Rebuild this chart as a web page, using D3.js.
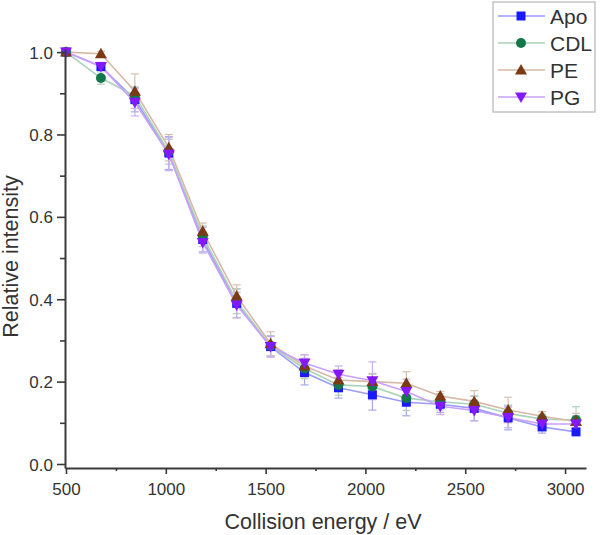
<!DOCTYPE html>
<html><head><meta charset="utf-8">
<script src="https://cdn.jsdelivr.net/npm/d3@7"></script>
<style>
html,body{margin:0;padding:0;background:#fff;}
svg text{font-family:"Liberation Sans",Arial,Helvetica,sans-serif;fill:#333;}
</style></head>
<body>
<svg id="chart" width="600" height="535"></svg>
<script>
const energies = [500, 675, 845, 1015, 1185, 1355, 1525, 1695, 1865, 2035, 2205, 2375, 2545, 2715, 2885, 3055];
const seriesNames = ["Apo", "CDL", "PE", "PG"];
const apo = [1.0, 0.965, 0.885, 0.755, 0.545, 0.390, 0.285, 0.222, 0.185, 0.168, 0.150, 0.145, 0.135, 0.112, 0.090, 0.078];
const cdl = [1.0, 0.937, 0.894, 0.758, 0.553, 0.395, 0.287, 0.232, 0.192, 0.188, 0.160, 0.151, 0.145, 0.123, 0.109, 0.107];
const pe  = [1.0, 0.996, 0.905, 0.768, 0.565, 0.408, 0.292, 0.238, 0.204, 0.200, 0.196, 0.165, 0.152, 0.131, 0.116, 0.103];
const pg  = [1.0, 0.965, 0.878, 0.752, 0.538, 0.386, 0.285, 0.245, 0.218, 0.202, 0.176, 0.140, 0.130, 0.113, 0.097, 0.097];
const apoErr = [0, 0.008, 0.030, 0.040, 0.030, 0.035, 0.025, 0.030, 0.025, 0.037, 0.033, 0.020, 0.030, 0.029, 0.015, 0.008];
const cdlErr = [0, 0.015, 0.020, 0.030, 0.025, 0.030, 0.025, 0.025, 0.025, 0.030, 0.030, 0.020, 0.020, 0.020, 0.012, 0.032];
const peErr  = [0, 0.006, 0.042, 0.032, 0.020, 0.027, 0.029, 0.027, 0.025, 0.020, 0.028, 0.011, 0.026, 0.031, 0.011, 0.020];
const pgErr  = [0, 0.010, 0.033, 0.040, 0.026, 0.031, 0.025, 0.020, 0.020, 0.046, 0.030, 0.020, 0.025, 0.025, 0.012, 0.020];
const xTicks = [500, 1000, 1500, 2000, 2500, 3000];
const xMinor = [750, 1250, 1750, 2250, 2750];
const yTicks = [0.0, 0.2, 0.4, 0.6, 0.8, 1.0];
const yMinor = [0.1, 0.3, 0.5, 0.7, 0.9];
const xTitle = "Collision energy / eV";
const yTitle = "Relative intensity";

const styles = {
  Apo: {marker: "#1a1aff", line: "#9c9cff", err: "#a8a8f0", shape: "square"},
  CDL: {marker: "#12784a", line: "#a9d3ba", err: "#b0d0bc", shape: "circle"},
  PE:  {marker: "#7c3a14", line: "#d8b8a6", err: "#d6c0b0", shape: "triangle"},
  PG:  {marker: "#8418ff", line: "#c9a0ff", err: "#c8b0ec", shape: "triangleDown"}
};
const valuesBy = {Apo: apo, CDL: cdl, PE: pe, PG: pg};
const errBy = {Apo: apoErr, CDL: cdlErr, PE: peErr, PG: pgErr};

const svg = d3.select("#chart");
const x = d3.scaleLinear().domain([495, 3105]).range([65, 586]);
const y = d3.scaleLinear().domain([-0.0097, 1.0075]).range([468, 49]);

// data layers
const plot = svg.append("g");
const line = d3.line().x((d,i)=>x(energies[i])).y(d=>y(d));

seriesNames.forEach(name => {
  const vals = valuesBy[name], errs = errBy[name], st = styles[name];
  const g = plot.append("g");
  // error bars
  vals.forEach((v,i) => {
    const e = errs[i];
    if (e <= 0) return;
    const cx = x(energies[i]);
    g.append("line").attr("x1",cx).attr("x2",cx).attr("y1",y(v-e)).attr("y2",y(v+e))
      .attr("stroke",st.err).attr("stroke-width",1.2);
    [v-e, v+e].forEach(t => g.append("line").attr("x1",cx-4).attr("x2",cx+4)
      .attr("y1",y(t)).attr("y2",y(t)).attr("stroke",st.err).attr("stroke-width",1.2));
  });
  g.append("path").datum(vals).attr("d", line).attr("fill","none")
    .attr("stroke", st.line).attr("stroke-width", 1.6);
});

function drawMarker(g, shape, cx, cy, color) {
  if (shape === "square") {
    g.append("rect").attr("x",cx-4.5).attr("y",cy-4.5).attr("width",9).attr("height",9).attr("fill",color);
  } else if (shape === "circle") {
    g.append("circle").attr("cx",cx).attr("cy",cy).attr("r",5).attr("fill",color);
  } else if (shape === "triangle") {
    g.append("path").attr("d",`M${cx},${cy-6}L${cx+6},${cy+4.5}L${cx-6},${cy+4.5}Z`).attr("fill",color);
  } else {
    g.append("path").attr("d",`M${cx},${cy+6}L${cx+6},${cy-4.5}L${cx-6},${cy-4.5}Z`).attr("fill",color);
  }
}

seriesNames.forEach(name => {
  const st = styles[name];
  const g = plot.append("g");
  valuesBy[name].forEach((v,i) => drawMarker(g, st.shape, x(energies[i]), y(v), st.marker));
});

// axes
const axisColor = "#3a3a3a";
const xAxisG = svg.append("g").attr("transform","translate(0,468)")
  .call(d3.axisBottom(x).tickValues(xTicks).tickFormat(d3.format("d")).tickSize(6).tickSizeOuter(0));
svg.append("g").attr("transform","translate(0,468)")
  .call(d3.axisBottom(x).tickValues(xMinor).tickFormat("").tickSize(3).tickSizeOuter(0))
  .select(".domain").remove();
const yAxisG = svg.append("g").attr("transform","translate(65,0)")
  .call(d3.axisLeft(y).tickValues(yTicks).tickFormat(d3.format(".1f")).tickSize(8).tickSizeOuter(0));
svg.append("g").attr("transform","translate(65,0)")
  .call(d3.axisLeft(y).tickValues(yMinor).tickFormat("").tickSize(5).tickSizeOuter(0))
  .select(".domain").remove();

svg.selectAll(".domain").attr("stroke",axisColor).attr("stroke-width",2);
svg.selectAll(".tick line").attr("stroke",axisColor).attr("stroke-width",1.6);
xAxisG.selectAll(".tick text").attr("y",27).attr("dy",0).style("font-size","17px").attr("fill","#333");
yAxisG.selectAll(".tick text").attr("x",-12).attr("dy","0.36em").style("font-size","17px").attr("fill","#333");

svg.append("text").attr("x",323).attr("y",529).attr("text-anchor","middle")
  .style("font-size","21.5px").text(xTitle);
svg.append("text").attr("transform","translate(18,256.5) rotate(-90)").attr("text-anchor","middle")
  .style("font-size","21.5px").text(yTitle);

// legend
const leg = svg.append("g");
leg.append("rect").attr("x",493).attr("y",2).attr("width",102).attr("height",110)
  .attr("fill","#fff").attr("stroke","#b5b5b5").attr("stroke-width",1.2);
seriesNames.forEach((name,i) => {
  const st = styles[name];
  const ly = 16 + i*27;
  leg.append("line").attr("x1",498).attr("x2",545).attr("y1",ly).attr("y2",ly)
    .attr("stroke",st.line).attr("stroke-width",1.6);
  drawMarker(leg, st.shape, 521, ly, st.marker);
  leg.append("text").attr("x",550).attr("y",ly).attr("dy","0.36em")
    .style("font-size","21px").text(name);
});
</script>
</body></html>
